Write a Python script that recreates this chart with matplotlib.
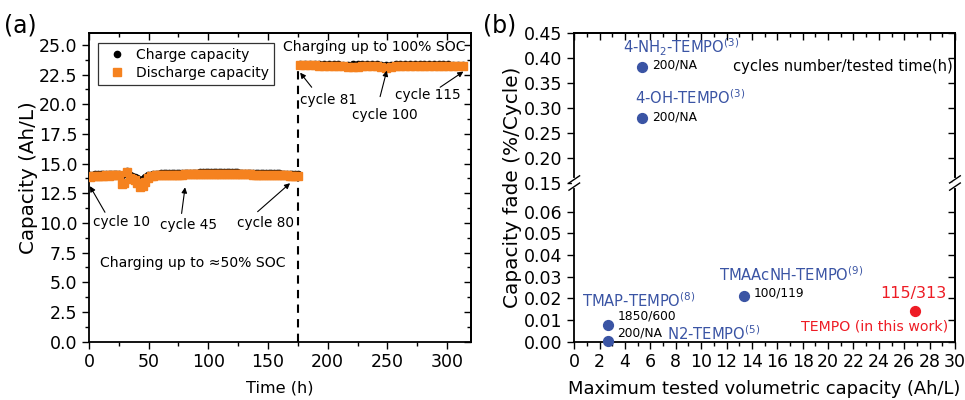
import numpy as np
import matplotlib.pyplot as plt
from matplotlib.ticker import MultipleLocator, FixedLocator
from matplotlib.lines import Line2D

plt.rcParams['font.family'] = ['DejaVu Sans']
plt.rcParams['mathtext.fontset'] = 'dejavusans'

# ---- panel (a): capacity vs time ----
time_50 = [1.0, 3.2, 5.4, 7.6, 9.8, 12.0, 14.2, 16.4, 18.6, 20.8, 23.0, 25.2, 27.4, 29.6, 31.8, 34.0,
           36.2, 38.4, 40.6, 42.8, 45.0, 47.2, 49.4, 51.6, 53.8, 56.0, 58.2, 60.4, 62.6, 64.8, 67.0,
           69.2, 71.4, 73.6, 75.8, 78.0, 80.2, 82.4, 84.6, 86.8, 89.0, 91.2, 93.4, 95.6, 97.8, 100.0,
           102.2, 104.4, 106.6, 108.8, 111.0, 113.2, 115.4, 117.6, 119.8, 122.0, 124.2, 126.4, 128.6,
           130.8, 133.0, 135.2, 137.4, 139.6, 141.8, 144.0, 146.2, 148.4, 150.6, 152.8, 155.0, 157.2,
           159.4, 161.6, 163.8, 166.0, 168.2, 170.4, 172.6, 174.8]
charge_50 = [14.02, 14.07, 14.09, 14.10, 14.10, 14.11, 14.12, 14.11, 14.12, 14.12, 14.13, 14.12,
             14.05, 14.15, 14.40, 14.05, 13.95, 13.85, 13.75, 13.65, 13.70, 13.85, 14.00, 14.08, 14.12,
             14.14, 14.15, 14.17, 14.18, 14.18, 14.19, 14.20, 14.20, 14.21, 14.21, 14.22, 14.22, 14.23,
             14.23, 14.24, 14.24, 14.24, 14.25, 14.25, 14.25,
             14.26, 14.26, 14.26, 14.27, 14.27, 14.27, 14.26, 14.26, 14.26, 14.25, 14.25, 14.25, 14.24,
             14.24, 14.24, 14.23, 14.23, 14.22, 14.22, 14.21, 14.21, 14.20, 14.20, 14.19, 14.19, 14.18,
             14.18, 14.17, 14.16, 14.15, 14.14, 14.13, 14.12, 14.11, 14.09]
discharge_50 = [13.90, 13.95, 13.97, 13.98, 13.98, 13.99, 14.00, 13.99, 14.00, 14.00, 14.01, 14.00,
                13.30, 13.35, 14.30, 13.80, 13.72, 13.62, 13.35, 13.05, 13.10, 13.45, 13.78, 13.92, 13.98,
                14.00, 14.02, 14.03, 14.04, 14.05, 14.05, 14.06, 14.07, 14.07, 14.08, 14.08, 14.09, 14.09,
                14.10, 14.10, 14.10, 14.11, 14.11, 14.11, 14.12,
                14.12, 14.12, 14.13, 14.13, 14.13, 14.13, 14.12, 14.12, 14.12, 14.11, 14.11, 14.11, 14.10,
                14.10, 14.10, 14.09, 14.09, 14.08, 14.08, 14.07, 14.07, 14.06, 14.06, 14.05, 14.05, 14.04,
                14.04, 14.03, 14.02, 14.01, 14.00, 13.99, 13.98, 13.97, 13.95]

time_100 = [177, 181, 185, 189, 193, 197, 201, 205, 209, 213, 217, 221, 225, 229, 233, 237, 241, 245,
            249, 253, 257, 261, 265, 269, 273, 277, 281, 285, 289, 293, 297, 301, 305, 309, 313]
charge_100 = [23.42, 23.40, 23.39, 23.39, 23.38, 23.38, 23.37, 23.36, 23.35, 23.33, 23.34, 23.36,
              23.38, 23.40, 23.41, 23.40, 23.38, 23.34, 23.30, 23.33, 23.36, 23.37, 23.37, 23.38,
              23.38, 23.38, 23.37, 23.37, 23.36, 23.36, 23.35, 23.35, 23.34, 23.34, 23.33]
discharge_100 = [23.30, 23.28, 23.27, 23.27, 23.26, 23.26, 23.25, 23.24, 23.22, 23.18, 23.15, 23.14,
                 23.16, 23.20, 23.22, 23.22, 23.18, 23.12, 23.08, 23.12, 23.18, 23.20, 23.21, 23.22,
                 23.22, 23.23, 23.22, 23.22, 23.21, 23.21, 23.20, 23.20, 23.19, 23.19, 23.18]
switch_time = 175

# ---- panel (b): capacity fade vs volumetric capacity ----
names_hi = ['4-NH$_2$-TEMPO$^{(3)}$', '4-OH-TEMPO$^{(3)}$']
cap_hi = [5.3, 5.3]
fade_hi = [0.383, 0.280]
cyc_hi = ['200/NA', '200/NA']

names_lo = ['TMAP-TEMPO$^{(8)}$', 'N2-TEMPO$^{(5)}$', 'TMAAcNH-TEMPO$^{(9)}$']
cap_lo = [2.65, 2.65, 13.4]
fade_lo = [0.0077, 0.0003, 0.0212]
cyc_lo = ['1850/600', '200/NA', '100/119']

this_cap = 26.85
this_fade = 0.0142
this_cyc = '115/313'

orange = '#F5821F'
blue = '#3A54A4'
red = '#EE1C25'
TICK_FS = 12.5


def style_ticks(ax, xmaj, xmin, ymaj, ymin, top=True):
    # left/bottom ticks point out, top/right ticks point in (Origin style)
    ax.xaxis.set_major_locator(xmaj)
    ax.yaxis.set_major_locator(ymaj)
    if xmin is not None:
        ax.xaxis.set_minor_locator(xmin)
    if ymin is not None:
        ax.yaxis.set_minor_locator(ymin)
    ax.tick_params(which='both', labelsize=TICK_FS, width=1, direction='out')
    ax.tick_params(which='major', length=5)
    ax.tick_params(which='minor', length=3)
    for sp in ax.spines.values():
        sp.set_linewidth(1.3)
    sec_y = ax.secondary_yaxis('right')
    sec_y.yaxis.set_major_locator(ymaj)
    if ymin is not None:
        sec_y.yaxis.set_minor_locator(ymin)
    sec_y.tick_params(which='both', direction='in', labelright=False, width=1)
    sec_y.tick_params(which='major', length=5)
    sec_y.tick_params(which='minor', length=3)
    sec_y.spines['right'].set_linewidth(1.3)
    if top:
        sec_x = ax.secondary_xaxis('top')
        sec_x.xaxis.set_major_locator(xmaj)
        if xmin is not None:
            sec_x.xaxis.set_minor_locator(xmin)
        sec_x.tick_params(which='both', direction='in', labeltop=False, width=1)
        sec_x.tick_params(which='major', length=5)
        sec_x.tick_params(which='minor', length=3)
        sec_x.spines['top'].set_linewidth(1.3)


fig = plt.figure(figsize=(9.65, 4.0), dpi=100)

# panel (a)
ax = fig.add_axes([0.0922, 0.1458, 0.3958, 0.7717])
t_all = time_50 + time_100
ax.plot(t_all, charge_50 + charge_100, 'o', color='black', ms=4.5, mec='black', label='Charge capacity', zorder=2)
ax.plot(t_all, discharge_50 + discharge_100, 's', color=orange, ms=5.2, mec=orange, label='Discharge capacity', zorder=3)
ax.plot([switch_time, switch_time], [0, discharge_100[0]], '--', color='black', lw=1.5, dashes=(4, 3))
ax.set_xlim(0, 320)
ax.set_ylim(0, 26)
style_ticks(ax, MultipleLocator(50), MultipleLocator(25), MultipleLocator(2.5), MultipleLocator(1.25))
ax.yaxis.set_major_formatter(plt.FormatStrFormatter('%.1f'))
ax.set_xlabel('Time (h)', fontsize=11.6)
ax.xaxis.set_label_coords(0.5, -0.125)
fig.text(0.0295, 0.555, 'Capacity (Ah/L)', fontsize=14.3, rotation=90, ha='center', va='center')

leg = ax.legend(loc='upper left', bbox_to_anchor=(0.0236, 0.9676), borderaxespad=0, fontsize=10,
                fancybox=False, edgecolor='black', handletextpad=0.4, borderpad=0.35, labelspacing=0.3,
                markerscale=1.0)
leg.get_frame().set_linewidth(0.9)

arr = dict(arrowstyle='-|>', color='black', lw=0.8, mutation_scale=8, shrinkA=0, shrinkB=0)
ann_fs = 9.8
ax.annotate('', xy=(0.8, 13.1), xytext=(13.4, 10.9), arrowprops=arr)
ax.text(27.2, 10.1, 'cycle 10', fontsize=ann_fs, ha='center', va='center')
ax.annotate('', xy=(80.5, 13.0), xytext=(77.6, 10.8), arrowprops=arr)
ax.text(83.8, 9.83, 'cycle 45', fontsize=ann_fs, ha='center', va='center')
ax.annotate('', xy=(168.5, 13.35), xytext=(141.3, 10.95), arrowprops=arr)
ax.text(147.5, 10.0, 'cycle 80', fontsize=ann_fs, ha='center', va='center')
ax.annotate('', xy=(176.9, 22.66), xytext=(186.6, 21.43), arrowprops=arr)
ax.text(200.7, 20.35, 'cycle 81', fontsize=ann_fs, ha='center', va='center')
ax.annotate('', xy=(249.5, 22.83), xytext=(243.9, 20.64), arrowprops=arr)
ax.text(248.1, 19.1, 'cycle 100', fontsize=ann_fs, ha='center', va='center')
ax.annotate('', xy=(313.7, 22.75), xytext=(294.2, 21.43), arrowprops=arr)
ax.text(283.9, 20.78, 'cycle 115', fontsize=ann_fs, ha='center', va='center')
ax.text(86.6, 6.6, 'Charging up to \u224850% SOC', fontsize=10.1, ha='center', va='center')
ax.text(238.9, 24.85, 'Charging up to 100% SOC', fontsize=10.1, ha='center', va='center')

# panel (b) - broken y axis
ax_hi = fig.add_axes([0.5951, 0.5425, 0.3945, 0.375])
ax_lo = fig.add_axes([0.5951, 0.1458, 0.3945, 0.3967])
ax_hi.set_xlim(0, 30)
ax_lo.set_xlim(0, 30)
ax_hi.set_ylim(0.15, 0.45)
ax_lo.set_ylim(0, 0.0732)
style_ticks(ax_hi, MultipleLocator(2), MultipleLocator(1), MultipleLocator(0.05), None, top=True)
style_ticks(ax_lo, MultipleLocator(2), MultipleLocator(1),
            FixedLocator([0, 0.01, 0.02, 0.03, 0.04, 0.05, 0.06]), None, top=False)
ax_hi.yaxis.set_major_formatter(plt.FormatStrFormatter('%.2f'))
ax_lo.yaxis.set_major_formatter(plt.FormatStrFormatter('%.2f'))
ax_hi.spines['bottom'].set_visible(False)
ax_hi.tick_params(axis='x', which='both', bottom=False, labelbottom=False)
ax_lo.spines['top'].set_visible(False)

ax_hi.scatter(cap_hi, fade_hi, s=50, color=blue, zorder=3, clip_on=False)
ax_lo.scatter(cap_lo, fade_lo, s=50, color=blue, zorder=3, clip_on=False)
ax_lo.scatter([this_cap], [this_fade], s=50, color=red, zorder=3, clip_on=False)

lab_fs = 10.6
small_fs = 8.8
ax_hi.text(8.4, 0.421, names_hi[0], color=blue, fontsize=lab_fs, ha='center', va='center')
ax_hi.text(6.1, 0.387, cyc_hi[0], fontsize=small_fs, ha='left', va='center')
ax_hi.text(9.1, 0.321, names_hi[1], color=blue, fontsize=lab_fs, ha='center', va='center')
ax_hi.text(6.1, 0.283, cyc_hi[1], fontsize=small_fs, ha='left', va='center')
ax_hi.text(29.85, 0.383, 'cycles number/tested time(h)', fontsize=10.6, ha='right', va='center')

ax_lo.text(5.08, 0.0188, names_lo[0], color=blue, fontsize=lab_fs, ha='center', va='center')
ax_lo.text(3.39, 0.0117, cyc_lo[0], fontsize=small_fs, ha='left', va='center')
ax_lo.text(3.39, 0.0039, cyc_lo[1], fontsize=small_fs, ha='left', va='center')
ax_lo.text(7.33, 0.0039, names_lo[1], color=blue, fontsize=lab_fs, ha='left', va='center')
ax_lo.text(17.13, 0.0308, names_lo[2], color=blue, fontsize=lab_fs, ha='center', va='center')
ax_lo.text(14.16, 0.0223, cyc_lo[2], fontsize=small_fs, ha='left', va='center')
ax_lo.text(26.7, 0.0223, this_cyc, color=red, fontsize=11.5, ha='center', va='center')
ax_lo.text(23.67, 0.0069, 'TEMPO (in this work)', color=red, fontsize=10.2, ha='center', va='center')

ax_lo.set_xlabel('Maximum tested volumetric capacity (Ah/L)', fontsize=12.9)
ax_lo.xaxis.set_label_coords(0.5, -0.24)
fig.text(0.5306, 0.5325, 'Capacity fade (%/Cycle)', fontsize=14.4, rotation=90, ha='center', va='center')

# break marks on the left and right spines
yb = 0.5425
for xb in (0.5951, 0.9896):
    fig.add_artist(Line2D([xb, xb], [yb - 0.008, yb + 0.008], color='white', lw=3,
                          transform=fig.transFigure, zorder=5))
    for off in (-0.009, 0.009):
        fig.add_artist(Line2D([xb - 0.0055, xb + 0.0055], [yb + off - 0.009, yb + off + 0.009],
                              color='black', lw=1, transform=fig.transFigure, zorder=6))

fig.text(0.021, 0.935, '(a)', fontsize=17, ha='center', va='center')
fig.text(0.518, 0.935, '(b)', fontsize=17, ha='center', va='center')

fig.savefig('out.png', dpi=100)
